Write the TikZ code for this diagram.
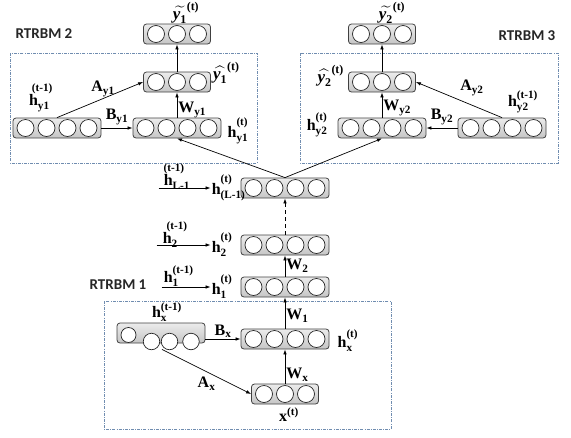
\documentclass[tikz,border=0pt]{standalone}
\usepackage{amsmath}
\usepackage{fontspec}
\setmainfont{Liberation Serif}
\newfontfamily\rtfont{Carlito}
\usetikzlibrary{arrows.meta}
\definecolor{frameblue}{RGB}{112,141,176}

\newcommand{\bt}[1]{\text{\bfseries #1}}
\newcommand{\yb}{\mbox{\bfseries\itshape y}}
\newcommand{\hv}[3][16pt]{{\bt{h}\rule{0pt}{#1}}_{\bt{#2}}^{\bt{#3}}}
\newcommand{\hs}[3]{{\bt{h}\rule{0pt}{18pt}}_{\bt{#2}}^{\kern#1\bt{#3}}}

\begin{document}
\begin{tikzpicture}[x=1pt, y=-1pt,
    layer/.style={draw=black!75, line width=0.8pt, rounded corners=3pt,
        top color=gray!15, bottom color=gray!45, minimum height=20pt, inner sep=0pt},
    unit/.style={circle, draw=black!85, fill=white, line width=0.7pt,
        minimum size=17pt, inner sep=0pt},
    frame/.style={draw=frameblue, line width=0.8pt,
        dash pattern=on 3pt off 1.2pt on 0.8pt off 1.2pt},
    conn/.style={-{Latex[length=5pt,width=3.6pt]}, line width=0.7pt},
    lbl/.style={inner sep=1pt, font=\fontsize{16}{19}\selectfont},
    ylbl/.style={inner sep=1pt, font=\fontsize{17}{20}\selectfont},
    rtitle/.style={font=\rtfont\bfseries\fontsize{15}{18}\selectfont, text=black!85}]
    \useasboundingbox (0,0) rectangle (571,437);

    % RTRBM frames
    \draw[frame] (10,53) rectangle (257,163);
    \draw[frame] (300,53) rectangle (558,163);
    \draw[frame] (104,301) rectangle (391,429);
    \node[rtitle] (t2) at (44,34) {RTRBM 2};
    \node[rtitle] (t3) at (527,36) {RTRBM 3};
    \node[rtitle] (t1) at (118,285) {RTRBM 1};

    % Layers of units
    \foreach \nm/\cx/\cy/\n in {yt1/177/34/3, yh1/177/82/3, hy1p/57/128/4, hy1/177/128/4,
        yt2/382/34/3, yh2/382/82/3, hy2/382/128/4, hy2p/502/128/4,
        hL/285/188/4, h2/285/245/4, h1/285/287/4, hx/285/339/4, xin/285/394/3}
    {
        \node[layer, minimum width={\n*21+4}] (\nm) at (\cx,\cy) {};
        \foreach \k in {1,...,\n}
            \node[unit] at ([xshift={(\k-(\n+1)/2)*21}]\nm.center) {};
    }
    \node[layer, minimum width=88] (hxp) at (161,333) {};
    \foreach \dx/\dy/\r in {-32.5/2/15, -9.5/8.5/16.5, 8.5/8.5/16.5, 30/8.5/16.5}
        \node[unit, minimum size=\r] at ([xshift=\dx, yshift=-\dy]hxp.center) {};

    % RTRBM 2
    \draw[conn] (yh1) -- (yt1);
    \draw[conn] (hy1) -- (yh1) node[midway, right, lbl, yshift=-5pt] (wy1) {$\bt{W}_{\bt{y1}}$};
    \draw[conn] (hy1p) -- (hy1) node[midway, above, lbl, yshift=2pt] (by1) {$\bt{B}_{\bt{y1}}$};
    \draw[conn] (hy1p.north) -- (yh1.west) node[midway, above, lbl, yshift=2pt, xshift=3pt] (ay1) {$\bt{A}_{\bt{y1}}$};
    \node[ylbl, anchor=south] (lyt1) at ([xshift=9pt, yshift=-1pt]yt1.north) {$\widetilde{\yb_{\bt{1}}}^{\bt{(t)}}$};
    \node[ylbl, anchor=west] (lyh1) at ([xshift=1pt, yshift=9pt]yh1.east) {$\widehat{\yb_{\bt{1}}}^{\bt{(t)}}$};
    \node[lbl, anchor=south] (lhy1p) at ([xshift=-16pt, yshift=4pt]hy1p.north) {$\hs{-6pt}{y1}{(t-1)}$};
    \node[lbl, anchor=west] (lhy1) at ([xshift=5pt, yshift=-3pt]hy1.east) {$\hv{y1}{(t)}$};

    % RTRBM 3
    \draw[conn] (yh2) -- (yt2);
    \draw[conn] (hy2) -- (yh2) node[midway, right, lbl, yshift=-3pt] (wy2) {$\bt{W}_{\bt{y2}}$};
    \draw[conn] (hy2p) -- (hy2) node[midway, above, lbl, yshift=2pt] (by2) {$\bt{B}_{\bt{y2}}$};
    \draw[conn] (hy2p.north) -- (yh2.east) node[midway, above right, lbl, yshift=3pt] (ay2) {$\bt{A}_{\bt{y2}}$};
    \node[ylbl, anchor=south] (lyt2) at ([xshift=10pt, yshift=-1pt]yt2.north) {$\widetilde{\yb_{\bt{2}}}^{\bt{(t)}}$};
    \node[ylbl, anchor=east] (lyh2) at ([xshift=-3pt, yshift=6pt]yh2.west) {$\widehat{\yb_{\bt{2}}}^{\bt{(t)}}$};
    \node[lbl, anchor=east] (lhy2) at ([xshift=-9pt, yshift=3pt]hy2.west) {$\hv[14pt]{y2}{(t)}$};
    \node[lbl, anchor=south] (lhy2p) at ([xshift=21pt, yshift=3pt]hy2p.north) {$\bt{h}_{\bt{y2}}^{\bt{(t-1)}}$};

    % Shared stack
    \draw[conn] (hL.north) -- (hy1.south);
    \draw[conn] (hL.north) -- (hy2.south);
    \draw[conn, dash pattern=on 4pt off 3pt] (h2) -- (hL);
    \draw[conn] (h1) -- (h2) node[midway, right, lbl] (w2) {$\bt{W}_{\bt{2}}$};
    \draw[conn] (hx) -- (h1) node[midway, right, lbl, yshift=-3pt] (w1) {$\bt{W}_{\bt{1}}$};

    \node[lbl, anchor=west] (lhL) at ([xshift=-30pt]hL.west) {$\hv{(L-1)}{(t)}$};
    \path (lhL.west) ++(-52,0) coordinate (sL);
    \draw[conn] (sL) -- (lhL.west);
    \node[lbl, anchor=base west] (lhLp) at ([xshift=4pt, yshift=3pt]sL) {$\hs{-9pt}{L-1}{(t-1)}$};

    \node[lbl, anchor=west] (lh2) at ([xshift=-30pt]h2.west) {$\hv{2}{(t)}$};
    \path (lh2.west) ++(-54,0) coordinate (s2);
    \draw[conn] (s2) -- (lh2.west);
    \node[lbl, anchor=base west] (lh2p) at ([xshift=5pt, yshift=2pt]s2) {$\hs{-5pt}{2}{(t-1)}$};

    \node[lbl, anchor=west] (lh1) at ([xshift=-30pt]h1.west) {$\hv{1}{(t)}$};
    \path (lh1.west) ++(-49,0) coordinate (s1);
    \draw[conn] (s1) -- (lh1.west);
    \node[lbl, anchor=base west] (lh1p) at ([xshift=1pt, yshift=5pt]s1) {$\bt{h}_{\bt{1}}^{\bt{(t-1)}}$};

    % RTRBM 1
    \draw[conn] (xin) -- (hx) node[midway, right, lbl, yshift=-8pt] (wx) {$\bt{W}_{\bt{x}}$};
    \draw[conn] (hxp.east |- hx.west) -- (hx.west) node[midway, above, lbl] (bx) {$\bt{B}_{\bt{x}}$};
    \draw[conn] ([xshift=1pt, yshift=-6pt]hxp.south) -- (xin.west) node[midway, below, lbl, yshift=-4pt] (ax) {$\bt{A}_{\bt{x}}$};
    \node[lbl, anchor=west] (lhx) at ([xshift=7pt, yshift=-2pt]hx.east) {$\hv[14pt]{x}{(t)}$};
    \node[lbl, anchor=south] (lhxp) at ([xshift=6pt]hxp.north) {$\bt{h}_{\bt{x}}^{\bt{(t-1)}}$};
    \node[lbl, anchor=north] (lxin) at ([xshift=4pt, yshift=-2pt]xin.south) {$\bt{x}^{\bt{(t)}}$};
\end{tikzpicture}
\end{document}
